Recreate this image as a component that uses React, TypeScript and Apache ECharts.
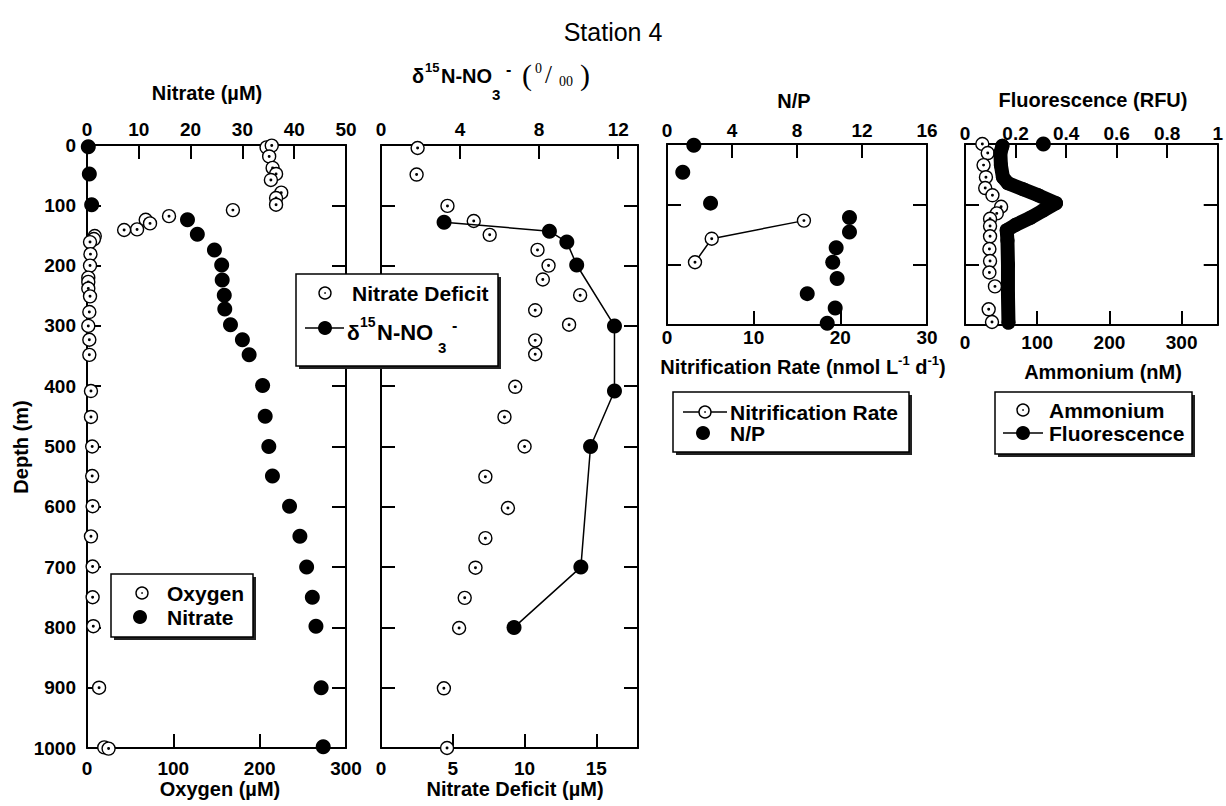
import React, { useEffect, useRef } from 'react';
import * as echarts from 'echarts';

// ---------- Data ----------
// Panel 1: Oxygen (µM, bottom axis) and Nitrate (µM, top axis) vs depth (m)
const oxygenDepth = [4, 1, 19, 38, 48, 58, 79, 88, 99, 108, 118, 124, 130, 140, 141, 151, 156, 161, 181, 200, 220, 227, 238, 251, 277, 300, 323, 348, 408, 451, 500, 549, 599, 649, 699, 750, 798, 900, 999, 1001];
const oxygen = [208, 214, 211, 215, 219, 213, 225, 219, 219, 169, 95, 68, 73, 58, 43, 9, 8, 3.5, 4, 3.5, 1.5, 1.5, 1.5, 3.5, 2.7, 1.5, 2.7, 2.7, 4.6, 4.6, 6, 6, 6.5, 4.6, 6.5, 6.5, 7.3, 14, 20, 25];
const nitrateDepth = [3, 48, 99, 124, 148, 174, 199, 224, 249, 272, 298, 323, 348, 399, 450, 500, 549, 599, 649, 700, 750, 798, 900, 998];
const nitrate = [0.25, 0.45, 0.9, 19.4, 21.3, 24.6, 26.0, 26.1, 26.5, 26.6, 27.7, 30.0, 31.3, 33.9, 34.4, 35.1, 35.8, 39.1, 41.1, 42.4, 43.5, 44.2, 45.2, 45.6];

// Panel 2: Nitrate deficit (µM, bottom) and d15N-NO3- (per mil, top)
const deficitDepth = [5, 49, 101, 126, 149, 174, 200, 223, 249, 274, 298, 324, 347, 401, 451, 500, 550, 602, 652, 701, 751, 801, 901, 1000];
const deficit = [2.55, 2.48, 4.63, 6.46, 7.57, 10.9, 11.67, 11.27, 13.87, 10.74, 13.1, 10.74, 10.74, 9.35, 8.6, 10.0, 7.27, 8.84, 7.27, 6.58, 5.83, 5.44, 4.38, 4.6];
const d15nDepth = [128, 143, 161, 199, 300, 408, 500, 700, 800];
const d15n = [3.19, 8.52, 9.4, 9.9, 11.81, 11.81, 10.6, 10.11, 6.73];

// Panel 3: N/P (top) and nitrification rate (nmol L-1 d-1, bottom)
const npDepth = [2, 47, 98, 122, 146, 172, 196, 223, 248, 272, 297];
const np = [1.65, 0.97, 2.68, 11.23, 11.23, 10.41, 10.2, 10.47, 8.63, 10.35, 9.86];
const nitrifDepth = [127, 157, 196];
const nitrif = [15.8, 5.16, 3.23];

// Panel 4: Fluorescence (RFU, top) and Ammonium (nM, bottom)
const fluorDepth = [3, 15, 35, 55, 65, 75, 85, 98, 110, 122, 134, 143, 160, 200, 250, 296];
const fluor = [0.148, 0.14, 0.142, 0.15, 0.17, 0.23, 0.29, 0.36, 0.31, 0.26, 0.2, 0.165, 0.168, 0.17, 0.17, 0.172];
const fluorSurfaceDepth = [0];
const fluorSurface = [0.31];
const ammoniumDepth = [0, 15, 35, 55, 73, 85, 104, 115, 124, 136, 153, 174, 194, 213, 236, 274, 295];
const ammonium = [24, 31.5, 25.7, 29, 28, 38, 50, 44, 34.7, 34.7, 34.7, 33.8, 34.7, 33.8, 41.5, 32.8, 37.4];

// ---------- Styling ----------
const FONT = '"Liberation Sans", Arial, Helvetica, sans-serif';
const SERIF = '"Liberation Serif", "Times New Roman", serif';
const OPEN = 'path://M0,50A50,50,0,1,1,100,50A50,50,0,1,1,0,50ZM44,50A6,6,0,1,1,56,50A6,6,0,1,1,44,50Z';
const openItem = { color: '#fff', borderColor: '#000', borderWidth: 1.4, opacity: 1 };
const fillItem = { color: '#000', opacity: 1 };
const lineS = { color: '#000', width: 2 };

const pairs = (vals: number[], depths: number[]) => vals.map((v, i) => [v, depths[i]]);

function axis(grid: number, position: string, min: number, max: number, interval: number, label: any, inverse = false) {
  return {
    type: 'value',
    gridIndex: grid,
    position,
    min,
    max,
    interval,
    inverse,
    axisLine: { show: true, onZero: false, lineStyle: lineS },
    axisTick: { show: true, inside: true, length: 14, lineStyle: lineS },
    splitLine: { show: false },
    axisLabel: label
      ? { show: true, color: '#000', fontFamily: FONT, fontWeight: 'bold', fontSize: 19, formatter: (v: number) => String(v), ...label }
      : { show: false },
  };
}

const txt = (x: number, y: number, text: string, extra: any = {}) => ({
  type: 'text',
  x,
  y,
  z: 100,
  style: {
    text,
    fill: '#000',
    fontFamily: FONT,
    fontWeight: 'bold',
    fontSize: 20,
    align: 'center',
    verticalAlign: 'middle',
    ...extra,
  },
});

// piece placed at absolute position
const pc = (x: number, y: number, text: string, size: number, family = FONT, weight = 'bold') =>
  txt(x, y, text, { align: 'left', fontSize: size, fontFamily: family, fontWeight: weight });

const box = (x: number, y: number, w: number, h: number) => [
  { type: 'rect', z: 99, shape: { x: x + 3, y: y + 3, width: w, height: h }, style: { fill: '#222' } },
  { type: 'rect', z: 99, shape: { x, y, width: w, height: h }, style: { fill: '#fff', stroke: '#000', lineWidth: 1.5 } },
];
const openMark = (x: number, y: number) => [
  { type: 'circle', z: 101, shape: { cx: x, cy: y, r: 6 }, style: { fill: '#fff', stroke: '#000', lineWidth: 1.4 } },
  { type: 'circle', z: 102, shape: { cx: x, cy: y, r: 0.8 }, style: { fill: '#000' } },
];
const fillMark = (x: number, y: number) => [
  { type: 'circle', z: 101, shape: { cx: x, cy: y, r: 7 }, style: { fill: '#000' } },
];
const seg = (x1: number, x2: number, y: number) => ({
  type: 'line', z: 100, shape: { x1, y1: y, x2, y2: y }, style: { stroke: '#000', lineWidth: 1.5 },
});

// sequential run of text pieces, measured with canvas
function run(cx: number, y: number, pieces: { t: string; s: number; dy?: number }[]) {
  const ctx = document.createElement('canvas').getContext('2d')!;
  const widths = pieces.map((p) => {
    ctx.font = `bold ${p.s}px "Liberation Sans", Arial, sans-serif`;
    return ctx.measureText(p.t).width;
  });
  const total = widths.reduce((a, b) => a + b, 0);
  let x = cx - total / 2;
  return pieces.map((p, i) => {
    const el = pc(x, y + (p.dy || 0), p.t, p.s);
    x += widths[i];
    return el;
  });
}

export default function App() {
  const ref = useRef<HTMLDivElement>(null);
  useEffect(() => {
    const chart = echarts.init(ref.current!, null, { renderer: 'svg' });
    const option: any = {
      animation: false,
      backgroundColor: '#fff',
      grid: [
        { left: 87, top: 145, width: 259, height: 603 },
        { left: 381, top: 145, width: 257, height: 603 },
        { left: 667, top: 144, width: 260, height: 181 },
        { left: 965, top: 144, width: 259, height: 181 },
      ],
      xAxis: [
        axis(0, 'top', 0, 50, 10, { margin: 6 }),
        axis(0, 'bottom', 0, 300, 100, { margin: 11 }),
        axis(1, 'top', 0, 13, 4, { margin: 6, showMaxLabel: false }),
        axis(1, 'bottom', 0, 17.9, 5, { margin: 11, showMaxLabel: false }),
        axis(2, 'top', 0, 16, 4, { margin: 4 }),
        axis(2, 'bottom', 0, 30, 10, { margin: 3 }),
        axis(3, 'top', 0, 1, 0.2, { margin: 1, formatter: (v: number) => String(Math.round(v * 10) / 10) }),
        axis(3, 'bottom', 0, 350, 100, { margin: 8, showMaxLabel: false }),
      ],
      yAxis: [
        axis(0, 'left', 0, 1000, 100, { margin: 11 }, true),
        axis(0, 'right', 0, 1000, 100, null, true),
        axis(1, 'left', 0, 1000, 100, null, true),
        axis(1, 'right', 0, 1000, 100, null, true),
        axis(2, 'left', 0, 300, 100, null, true),
        axis(2, 'right', 0, 300, 100, null, true),
        axis(3, 'left', 0, 300, 100, null, true),
        axis(3, 'right', 0, 300, 100, null, true),
      ],
      series: [
        { type: 'scatter', name: 'Nitrate', xAxisIndex: 0, yAxisIndex: 0, clip: false, data: pairs(nitrate, nitrateDepth), symbol: 'circle', symbolSize: 15, itemStyle: fillItem },
        { type: 'scatter', name: 'Oxygen', xAxisIndex: 1, yAxisIndex: 0, clip: false, data: pairs(oxygen, oxygenDepth), symbol: OPEN, symbolSize: 13, itemStyle: openItem },
        { type: 'scatter', name: 'Nitrate Deficit', xAxisIndex: 3, yAxisIndex: 2, clip: false, data: pairs(deficit, deficitDepth), symbol: OPEN, symbolSize: 13, itemStyle: openItem },
        { type: 'line', name: 'd15N-NO3', xAxisIndex: 2, yAxisIndex: 2, clip: false, data: pairs(d15n, d15nDepth), symbol: 'circle', symbolSize: 15, showAllSymbol: true, itemStyle: fillItem, lineStyle: { color: '#000', width: 1.5 } },
        { type: 'scatter', name: 'N/P', xAxisIndex: 4, yAxisIndex: 4, clip: false, data: pairs(np, npDepth), symbol: 'circle', symbolSize: 15, itemStyle: fillItem },
        { type: 'line', name: 'Nitrification Rate', xAxisIndex: 5, yAxisIndex: 4, clip: false, data: pairs(nitrif, nitrifDepth), symbol: OPEN, symbolSize: 13, showAllSymbol: true, itemStyle: openItem, lineStyle: { color: '#000', width: 1.5 } },
        { type: 'line', name: 'Fluorescence', xAxisIndex: 6, yAxisIndex: 6, clip: false, data: pairs(fluor, fluorDepth), symbol: 'circle', symbolSize: 14, showAllSymbol: true, itemStyle: fillItem, lineStyle: { color: '#000', width: 14, cap: 'round', join: 'round' } },
        { type: 'scatter', name: 'Fluorescence surface', xAxisIndex: 6, yAxisIndex: 6, clip: false, data: pairs(fluorSurface, fluorSurfaceDepth), symbol: 'circle', symbolSize: 15, itemStyle: fillItem },
        { type: 'scatter', name: 'Ammonium', xAxisIndex: 7, yAxisIndex: 6, clip: false, data: pairs(ammonium, ammoniumDepth), symbol: OPEN, symbolSize: 13, itemStyle: openItem },
      ],
      graphic: [
        txt(613, 32, 'Station 4', { fontWeight: 'normal', fontSize: 25 }),
        txt(207, 93, 'Nitrate (µM)'),
        // δ15N-NO3- (‰) title
        pc(412, 76, 'δ', 20),
        pc(425, 67, '15', 13),
        pc(441, 76, 'N-NO', 20),
        pc(492, 94, '3', 15),
        pc(506, 69, '-', 16),
        pc(522, 74, '(', 30, SERIF, 'normal'),
        pc(535, 68, '0', 14, SERIF, 'normal'),
        pc(545, 74, '/', 25, SERIF, 'normal'),
        pc(559, 81, '00', 14, SERIF, 'normal'),
        pc(580, 74, ')', 30, SERIF, 'normal'),
        txt(794, 101, 'N/P'),
        txt(1093, 100, 'Fluorescence (RFU)'),
        txt(220, 789, 'Oxygen (µM)'),
        txt(515, 789, 'Nitrate Deficit (µM)'),
        ...run(803, 367, [
          { t: 'Nitrification Rate (nmol L', s: 20 },
          { t: '-1', s: 13, dy: -7 },
          { t: ' d', s: 20 },
          { t: '-1', s: 13, dy: -7 },
          { t: ')', s: 20 },
        ]),
        txt(1103, 372, 'Ammonium (nM)'),
        { ...txt(21, 447, 'Depth (m)'), rotation: Math.PI / 2 },

        // Legend 1
        ...box(111, 574, 142, 63),
        ...openMark(142, 593),
        pc(167, 593, 'Oxygen', 21),
        ...fillMark(140, 617),
        pc(167, 617, 'Nitrate', 21),

        // Legend 2
        ...box(296, 274, 202, 92),
        ...openMark(325, 293),
        pc(352, 293, 'Nitrate Deficit', 21),
        seg(305, 344, 328),
        ...fillMark(325, 328),
        pc(347, 332, 'δ', 21),
        pc(360, 322, '15', 14),
        pc(377, 332, 'N-NO', 22),
        pc(438, 347, '3', 15),
        pc(452, 325, '-', 16),

        // Legend 3
        ...box(673, 392, 236, 60),
        seg(683, 727, 412),
        ...openMark(705, 412),
        pc(730, 412, 'Nitrification Rate', 21),
        ...fillMark(703, 433),
        pc(730, 433, 'N/P', 21),

        // Legend 4
        ...box(995, 392, 197, 62),
        ...openMark(1023, 410),
        pc(1049, 410, 'Ammonium', 21),
        seg(1003, 1043, 433),
        ...fillMark(1023, 433),
        pc(1049, 433, 'Fluorescence', 21),
      ],
    };
    chart.setOption(option);
    return () => chart.dispose();
  }, []);
  return (
    <div
      ref={ref}
      style={{ position: 'absolute', left: 0, top: 0, width: 1226, height: 806, background: '#fff' }}
    />
  );
}
